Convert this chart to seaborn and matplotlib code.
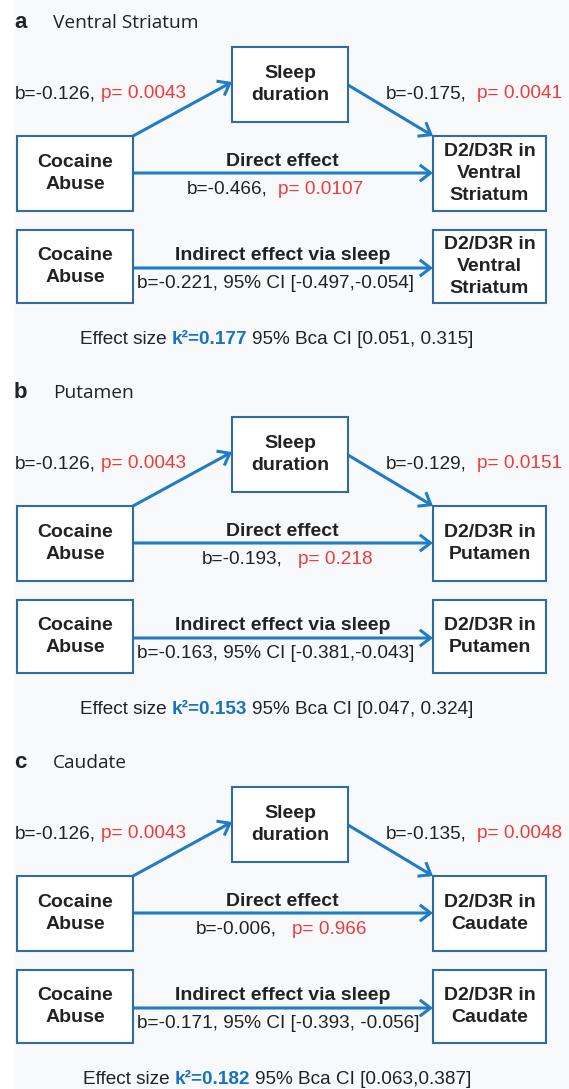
"""Mediation diagrams: cocaine abuse -> sleep duration -> striatal D2/D3R."""
import matplotlib
matplotlib.use("Agg")
import matplotlib.pyplot as plt
from matplotlib.patches import Rectangle, FancyArrowPatch
import seaborn as sns

# ---- data ---------------------------------------------------------------
PANEL_TAGS = ["a", "b", "c"]
REGIONS = ["Ventral Striatum", "Putamen", "Caudate"]
OUTCOME_LABELS = ["D2/D3R in\nVentral\nStriatum", "D2/D3R in\nPutamen", "D2/D3R in\nCaudate"]
A_PATH_B = ["-0.126", "-0.126", "-0.126"]
A_PATH_P = ["0.0043", "0.0043", "0.0043"]
B_PATH_B = ["-0.175", "-0.129", "-0.135"]
B_PATH_P = ["0.0041", "0.0151", "0.0048"]
DIRECT_B = ["-0.466", "-0.193", "-0.006"]
DIRECT_P = ["0.0107", "0.218", "0.966"]
INDIRECT_B = ["-0.221", "-0.163", "-0.171"]
INDIRECT_CI = ["[-0.497,-0.054]", "[-0.381,-0.043]", "[-0.393, -0.056]"]
KAPPA2 = ["0.177", "0.153", "0.182"]
KAPPA2_CI = ["[0.051, 0.315]", "[0.047, 0.324]", "[0.063,0.387]"]

# ---- style ---------------------------------------------------------------
sns.set_style("white")
plt.rcParams["font.family"] = ["Liberation Sans", "DejaVu Sans"]
BOX_EDGE = "#2f6ba6"
ARROW = "#1f7cc6"
RED = "#f23a3a"
BLUE = "#1a72c2"
DARK = "#222222"
BG = "#f8f9fb"
FS = 13.7     # regular labels
FSB = 14      # bold box / path labels
W, H = 569, 1089
PANEL_DY = 370
DIRECT_LEFT = [187, 202, 196]


def rich_line(ax, x, y, parts, ha="left", size=FS):
    """parts: (text, colour, weight, gap_px_before)."""
    r = ax.figure.canvas.get_renderer()
    texts, widths = [], []
    for s, c, w, _ in parts:
        t = ax.text(0, y, s, color=c, fontweight=w, fontsize=size,
                    ha="left", va="center")
        texts.append(t)
        widths.append(t.get_window_extent(r).width)
    total = sum(widths) + sum(p[3] for p in parts[1:])
    start = {"left": x, "right": x - total, "center": x - total / 2}[ha]
    for i, t in enumerate(texts):
        if i:
            start += parts[i][3]
        t.set_x(start)
        start += widths[i]


def box(ax, x0, y0, x1, y1, label):
    ax.add_patch(Rectangle((x0, y0), x1 - x0, y1 - y0, fill=True, fc="white",
                           ec=BOX_EDGE, lw=1.5, zorder=2))
    ax.text((x0 + x1) / 2, (y0 + y1) / 2, label, ha="center", va="center",
            fontsize=FSB, fontweight="bold", color=DARK, linespacing=1.38,
            multialignment="center", zorder=3)


def arrow(ax, p0, p1):
    ax.add_patch(FancyArrowPatch(p0, p1, arrowstyle="->,head_length=0.55,head_width=0.42",
                                 mutation_scale=14, lw=2.2, color=ARROW,
                                 shrinkA=0, shrinkB=0, zorder=1,
                                 joinstyle="miter", capstyle="butt"))


fig = plt.figure(figsize=(W / 100, H / 100), dpi=100)
ax = fig.add_axes([0, 0, 1, 1])
ax.set_xlim(0, W)
ax.set_ylim(H, 0)
ax.axis("off")
ax.add_patch(Rectangle((14, 0), W - 14, H, fc=BG, ec="none", zorder=0))

for i in range(3):
    y0 = i * PANEL_DY
    ax.text(14, y0 + 22, PANEL_TAGS[i], fontsize=16, fontweight="bold",
            color=DARK, ha="left", va="center")
    ax.text(53, y0 + 23, REGIONS[i], fontsize=13.8, color=DARK, ha="left",
            va="center", family=["Open Sans", "DejaVu Sans"])

    # total / mediation model
    box(ax, 232, y0 + 47, 348, y0 + 122, "Sleep\nduration")
    box(ax, 17, y0 + 136, 133, y0 + 211, "Cocaine\nAbuse")
    box(ax, 433, y0 + 136, 546, y0 + 211, OUTCOME_LABELS[i])
    arrow(ax, (133, y0 + 136), (232, y0 + 82))
    arrow(ax, (348, y0 + 85), (433, y0 + 136))
    arrow(ax, (133, y0 + 173), (433, y0 + 173))

    rich_line(ax, 15, y0 + 94, [(f"b={A_PATH_B[i]},", DARK, "normal", 0),
                                (f"p= {A_PATH_P[i]}", RED, "normal", 5)])
    rich_line(ax, 562, y0 + 94, [(f"b={B_PATH_B[i]},", DARK, "normal", 0),
                                 (f"p= {B_PATH_P[i]}", RED, "normal", 10)], ha="right")
    ax.text(282, y0 + 161, "Direct effect", fontsize=FSB, fontweight="bold",
            color=DARK, ha="center", va="center")
    rich_line(ax, DIRECT_LEFT[i], y0 + 189,
              [(f"b={DIRECT_B[i]},", DARK, "normal", 0),
               (f"p= {DIRECT_P[i]}", RED, "normal", 10 if i == 0 else 15)])

    # indirect effect
    box(ax, 17, y0 + 230, 133, y0 + 303, "Cocaine\nAbuse")
    box(ax, 433, y0 + 230, 546, y0 + 303, OUTCOME_LABELS[i])
    arrow(ax, (133, y0 + 268), (433, y0 + 268))
    ax.text(283, y0 + 255, "Indirect effect via sleep", fontsize=FSB,
            fontweight="bold", color=DARK, ha="center", va="center")
    ax.text(137, y0 + 283, f"b={INDIRECT_B[i]}, 95% CI {INDIRECT_CI[i]}",
            fontsize=FS, color=DARK, ha="left", va="center")

    rich_line(ax, 277, y0 + 340,
              [("Effect size", DARK, "normal", 0),
               (f"k\u00b2={KAPPA2[i]}", BLUE, "bold", 5),
               (f"95% Bca CI {KAPPA2_CI[i]}", DARK, "normal", 5)], ha="center")

fig.savefig("out.png", dpi=100, facecolor="white")
